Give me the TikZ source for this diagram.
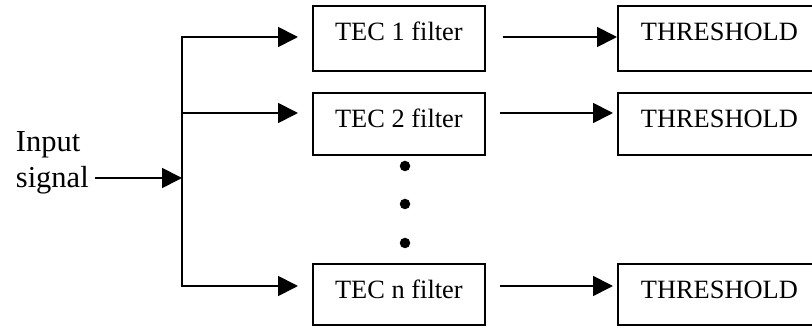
\documentclass[tikz,border=0pt]{standalone}
\usepackage{fontspec}
\setmainfont{Liberation Serif}
\usetikzlibrary{arrows.meta}
\begin{document}
\begin{tikzpicture}[x=1pt,y=-1pt,
  line width=1.8pt,
  every node/.style={font=\fontsize{26.4}{30}\selectfont},
  blk/.style={draw, rectangle, inner sep=0pt, text height=35pt, anchor=north west},
  filt/.style={blk, minimum width=172pt},
  thr/.style={blk, minimum width=203pt},
  sig/.style={-{Triangle[length=20pt,width=20pt]}},
  dot/.style={circle, fill, inner sep=0pt, minimum size=10.5pt}
]
\clip (0,0) rectangle (812,328);

% filter bank
\node[filt, text depth=30pt] (f1) at (312,5)   {TEC 1 filter};
\node[filt, text depth=27pt] (f2) at (312,92)  {TEC 2 filter};
\node[filt, text depth=26pt] (fn) at (312,263) {TEC n filter};

% threshold stages
\node[thr, text depth=30pt] (t1) at (617,5)   {THRESHOLD};
\node[thr, text depth=27pt] (t2) at (617,92)  {THRESHOLD};
\node[thr, text depth=26pt] (tn) at (617,263) {THRESHOLD};

% ellipsis between the second and the last filter
\node[dot] (d1) at (405,166) {};
\node[dot] (d2) at (405,204) {};
\node[dot] (d3) at (405,243) {};

% input
\node[align=left, inner sep=0pt, anchor=base west,
      font=\fontsize{30.5}{36}\selectfont] (inp) at (15,188) {Input\\signal};

% branch levels on the bus
\coordinate (j)  at (182,178);
\coordinate (a1) at (182,37);
\coordinate (a2) at (182,113);
\coordinate (an) at (182,286);

\draw[sig, shorten <=5pt] (inp.east |- j) -- (j);
\draw[sig, shorten >=14pt] (j) |- (a1 -| f1.west);
\draw[sig, shorten >=14pt] (j) |- (a2 -| f2.west);
\draw[sig, shorten >=14pt] (j) |- (an -| fn.west);

\draw[sig, shorten <=17pt] (a1 -| f1.east) -- (a1 -| t1.west);
\draw[sig, shorten <=14pt, shorten >=4pt] (a2 -| f2.east) -- (a2 -| t2.west);
\draw[sig, shorten <=14pt, shorten >=4pt] (an -| fn.east) -- (an -| tn.west);
\end{tikzpicture}
\end{document}
